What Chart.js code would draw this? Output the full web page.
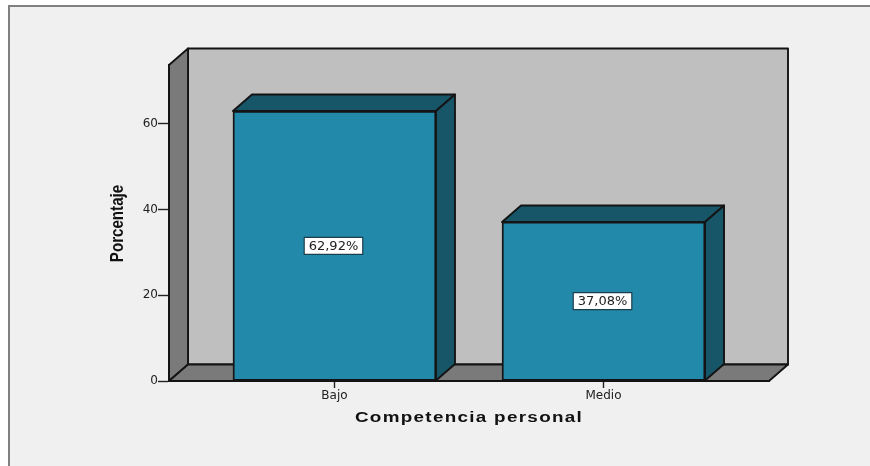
<!DOCTYPE html>
<html>
<head>
<meta charset="utf-8">
<script src="https://cdn.jsdelivr.net/npm/chart.js@4"></script>
<style>
  html, body { margin: 0; padding: 0; background: #fff; overflow: hidden; }
  #frame { position: absolute; left: 8px; top: 5px; right: 0; bottom: 0; background: #f0f0f0; border-left: 2px solid #808080; border-top: 2px solid #808080; }
  canvas { position: absolute; left: 0; top: 0; }
</style>
</head>
<body>
<div id="frame"></div>
<canvas id="chart" width="870" height="466"></canvas>
<script>
const categories = ["Bajo", "Medio"];
const percentages = [62.92, 37.08];
const yTicks = [0, 20, 40, 60];
const xTitle = "Competencia personal";
const yTitle = "Porcentaje";

const depthX = 19;
const depthY = 16.5;
const frontColor = "#2389ab";
const shadeColor = "#175569";
const wallColor = "#bfbfbf";
const sideColor = "#7a7a7a";
const edgeColor = "#141414";
const edgeWidth = 1.9;

function poly(ctx, pts, fill) {
  ctx.beginPath();
  pts.forEach((p, i) => (i ? ctx.lineTo(p[0], p[1]) : ctx.moveTo(p[0], p[1])));
  ctx.closePath();
  ctx.fillStyle = fill;
  ctx.fill();
  ctx.stroke();
}

const box3d = {
  id: "box3d",
  // back wall, left wall and floor go under the axes
  beforeDraw(chart) {
    const { ctx, chartArea: a } = chart;
    ctx.save();
    ctx.strokeStyle = edgeColor;
    ctx.lineWidth = edgeWidth;
    ctx.lineJoin = "round";
    poly(ctx, [[a.left + depthX, a.top - depthY], [a.right + depthX, a.top - depthY], [a.right + depthX, a.bottom - depthY], [a.left + depthX, a.bottom - depthY]], wallColor);
    poly(ctx, [[a.left, a.top], [a.left + depthX, a.top - depthY], [a.left + depthX, a.bottom - depthY], [a.left, a.bottom]], sideColor);
    poly(ctx, [[a.left, a.bottom], [a.left + depthX, a.bottom - depthY], [a.right + depthX, a.bottom - depthY], [a.right, a.bottom]], sideColor);
    ctx.restore();
  },
  // top and side of each bar, then the value box
  afterDatasetsDraw(chart) {
    const { ctx } = chart;
    const bars = chart.getDatasetMeta(0).data;
    ctx.save();
    ctx.lineJoin = "round";
    bars.forEach((bar, i) => {
      const p = bar.getProps(["x", "y", "base", "width"], true);
      const l = p.x - p.width / 2;
      const r = p.x + p.width / 2;
      ctx.strokeStyle = edgeColor;
      ctx.lineWidth = edgeWidth;
      poly(ctx, [[l, p.y], [l + depthX, p.y - depthY], [r + depthX, p.y - depthY], [r, p.y]], shadeColor);
      poly(ctx, [[r, p.y], [r + depthX, p.y - depthY], [r + depthX, p.base - depthY], [r, p.base]], shadeColor);

      const text = percentages[i].toFixed(2).replace(".", ",") + "%";
      const cy = (p.y + p.base) / 2;
      const cx = p.x - 1;
      ctx.font = '13px "DejaVu Sans"';
      const w = ctx.measureText(text).width + 9;
      ctx.fillStyle = "#fff";
      ctx.lineWidth = 1.2;
      ctx.strokeStyle = "#1c3f4c";
      ctx.fillRect(cx - w / 2, cy - 8.5, w, 17);
      ctx.strokeRect(cx - w / 2, cy - 8.5, w, 17);
      ctx.fillStyle = "#222";
      ctx.textAlign = "center";
      ctx.textBaseline = "middle";
      ctx.fillText(text, cx, cy + 0.5);
    });
    ctx.restore();
  },
  // axis titles are stretched in the picture, so they are drawn here
  afterDraw(chart) {
    const { ctx, chartArea: a } = chart;
    ctx.save();
    ctx.fillStyle = "#111";
    ctx.textAlign = "center";
    ctx.textBaseline = "middle";
    ctx.save();
    ctx.translate((a.left + a.right) / 2, a.bottom + 37);
    ctx.scale(1.3, 1);
    ctx.letterSpacing = "1px";
    ctx.font = 'bold 14.5px "Liberation Sans"';
    ctx.fillText(xTitle, 0, 0);
    ctx.restore();
    ctx.translate(a.left - 51, (a.top + a.bottom) / 2 + 0.5);
    ctx.rotate(-Math.PI / 2);
    ctx.scale(0.84, 1);
    ctx.font = 'bold 18px "Liberation Sans"';
    ctx.fillText(yTitle, 0, 0);
    ctx.restore();
  }
};

new Chart(document.getElementById("chart").getContext("2d"), {
  type: "bar",
  data: {
    datasets: [{
      data: percentages.map((v, i) => ({ x: i, y: v })),
      backgroundColor: frontColor,
      borderColor: edgeColor,
      borderWidth: edgeWidth,
      borderSkipped: false,
      barThickness: 203
    }]
  },
  options: {
    responsive: false,
    animation: false,
    layout: { padding: { left: 108, right: 101, top: 65, bottom: 38 } },
    plugins: { legend: { display: false }, tooltip: { enabled: false } },
    scales: {
      x: {
        type: "linear",
        offset: false,
        min: -0.615,
        max: 1.615,
        afterFit: (s) => { s.height = 47; },
        afterBuildTicks: (s) => { s.ticks = categories.map((c, i) => ({ value: i })); },
        grid: { offset: false, drawOnChartArea: false, tickLength: 7, tickColor: "#222", tickWidth: 1.4 },
        border: { color: edgeColor, width: edgeWidth },
        ticks: {
          padding: 1,
          color: "#222",
          maxRotation: 0,
          font: { family: "DejaVu Sans", size: 12 },
          callback: (v) => categories[v]
        }
      },
      y: {
        min: 0,
        max: 73.66,
        afterFit: (s) => { s.width = 61; },
        afterBuildTicks: (s) => { s.ticks = yTicks.map((v) => ({ value: v })); },
        grid: { drawOnChartArea: false, tickLength: 11, tickColor: "#222", tickWidth: 1.4 },
        border: { color: edgeColor, width: edgeWidth },
        ticks: {
          padding: 0,
          color: "#222",
          font: { family: "DejaVu Sans", size: 12 }
        }
      }
    }
  },
  plugins: [box3d]
});
</script>
</body>
</html>
